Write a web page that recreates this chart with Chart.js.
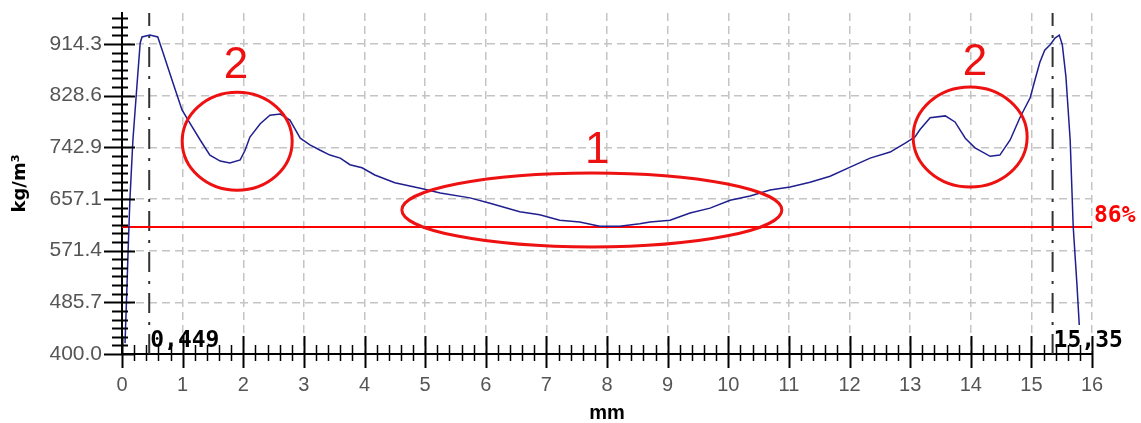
<!DOCTYPE html>
<html>
<head>
<meta charset="utf-8">
<script src="https://cdn.jsdelivr.net/npm/chart.js@4.4.0/dist/chart.umd.min.js"></script>
<style>
html, body { margin: 0; padding: 0; background: #fff; }
#wrap { width: 1141px; height: 423px; }
</style>
</head>
<body>
<div id="wrap"><canvas id="densityChart" width="1141" height="423"></canvas></div>
<script>
// density profile across the board thickness
var positionMm = [0.05, 0.08, 0.10, 0.13, 0.18, 0.25, 0.30, 0.33, 0.46, 0.59, 0.68, 0.84, 0.99, 1.12, 1.29, 1.45, 1.62, 1.78, 1.95, 2.03,
    2.11, 2.28, 2.44, 2.61, 2.77, 2.94, 3.10, 3.27, 3.43, 3.60, 3.76, 3.96, 4.17, 4.50, 4.92, 5.25, 5.74, 6.07, 6.56, 6.89,
    7.22, 7.55, 7.88, 8.21, 8.54, 8.71, 9.04, 9.37, 9.70, 10.03, 10.36, 10.69, 11.02, 11.35, 11.68, 12.01, 12.34, 12.67, 12.92, 13.08,
    13.16, 13.33, 13.58, 13.74, 13.91, 14.07, 14.32, 14.48, 14.65, 14.81, 14.98, 15.06, 15.14, 15.22, 15.31, 15.39, 15.46, 15.51, 15.57, 15.64,
    15.69, 15.75, 15.79];
var densityKg = [418, 506, 569, 655, 755, 850, 916, 926, 929, 926, 899, 850, 805, 783, 755, 730, 720, 717, 722, 738,
    760, 782, 796, 798, 788, 758, 747, 738, 730, 725, 714, 709, 697, 684, 675, 667, 659, 650, 636, 631,
    622, 619, 612, 612, 616, 619, 622, 634, 642, 655, 662, 672, 677, 685, 695, 710, 725, 735, 750, 760,
    772, 792, 795, 785, 758, 742, 728, 730, 755, 792, 825, 855, 884, 904, 913, 924, 929, 913, 860, 755,
    611, 518, 448];

var yTickValues = [400, 485.7, 571.4, 657.1, 742.9, 828.6, 914.3];
var yTickLabels = ['400.0', '485.7', '571.4', '657.1', '742.9', '828.6', '914.3'];
var xTickValues = [0, 1, 2, 3, 4, 5, 6, 7, 8, 9, 10, 11, 12, 13, 14, 15, 16];
var yMin = 400, yMax = 965.7;

// 86% reference level
var limitLevel = 610.7;
var limitLabel = '86%';

// dash-dot markers at the peaks
var markerPositions = [0.449, 15.35];
var markerLabels = ['0,449', '15,35'];

// red hand-drawn annotations (centre in data units, radius in px)
var notes = [
    { cx: 1.90, cy: 753, rx: 55, ry: 49, text: '2', tx: 1.88, ty: 878 },
    { cx: 7.75, cy: 639, rx: 190, ry: 37, text: '1', tx: 7.84, ty: 737 },
    { cx: 13.99, cy: 760, rx: 57, ry: 50, text: '2', tx: 14.07, ty: 883 }
];

var ctx = document.getElementById('densityChart').getContext('2d');

var datasets = [{
    label: 'density',
    data: positionMm.map(function (x, i) { return { x: x, y: densityKg[i] }; }),
    borderColor: '#1f1f8f',
    borderWidth: 1.5,
    pointRadius: 0,
    tension: 0
}, {
    label: 'limit',
    data: [{ x: 0, y: limitLevel }, { x: 16, y: limitLevel }],
    borderColor: '#ff0000',
    borderWidth: 2,
    pointRadius: 0
}];
markerPositions.forEach(function (m) {
    datasets.push({
        label: 'marker',
        data: [{ x: m, y: yMin }, { x: m, y: yMax }],
        borderColor: '#333',
        borderWidth: 2,
        borderDash: [20, 9, 3, 9],
        pointRadius: 0
    });
});

var extrasPlugin = {
    id: 'extras',
    afterDatasetsDraw: function (chart) {
        var c = chart.ctx, xs = chart.scales.x, ys = chart.scales.y;
        c.save();
        c.strokeStyle = '#000';
        c.lineWidth = 2;
        // y axis tick marks, 6 minor steps per major
        var yStep = (600 / 7) / 6;
        for (var i = 0; ; i++) {
            var v = yMin + i * yStep;
            if (v > yMax) break;
            var py = Math.round(ys.getPixelForValue(v)) + 0.5;
            var major = i % 6 === 0;
            c.beginPath();
            c.moveTo(xs.left - (major ? 18 : 10), py);
            c.lineTo(xs.left + (major ? 13 : 6), py);
            c.stroke();
        }
        // x axis tick marks, 0.2 mm minor
        for (var j = 0; j <= 80; j++) {
            var px = Math.round(xs.getPixelForValue(j * 0.2)) + 0.5;
            var maj = j % 5 === 0;
            c.lineWidth = maj ? 2 : 1.5;
            c.beginPath();
            c.moveTo(px, ys.bottom - (maj ? 18 : 9));
            c.lineTo(px, ys.bottom + (maj ? 14 : 7));
            c.stroke();
        }
        // marker labels
        c.fillStyle = '#000';
        c.font = 'bold 23px "DejaVu Sans Mono"';
        c.textAlign = 'left';
        c.textBaseline = 'alphabetic';
        markerPositions.forEach(function (m, k) {
            c.fillText(markerLabels[k], xs.getPixelForValue(m) + 1, ys.bottom - 7);
        });
        // 86% label
        c.fillStyle = '#ff0000';
        c.fillText(limitLabel, xs.right + 2, ys.getPixelForValue(limitLevel) - 5);
        // annotations
        c.strokeStyle = '#ee1111';
        c.fillStyle = '#ee1111';
        c.lineWidth = 3;
        c.font = '44px "Liberation Sans"';
        c.textAlign = 'center';
        c.textBaseline = 'middle';
        notes.forEach(function (n) {
            c.beginPath();
            c.ellipse(xs.getPixelForValue(n.cx), ys.getPixelForValue(n.cy), n.rx, n.ry, 0, 0, Math.PI * 2);
            c.stroke();
            c.fillText(n.text, xs.getPixelForValue(n.tx), ys.getPixelForValue(n.ty));
        });
        c.restore();
    }
};

var chart = new Chart(ctx, {
    type: 'line',
    data: { datasets: datasets },
    options: {
        responsive: false,
        animation: false,
        layout: { padding: { top: 13, right: 49, left: 0, bottom: 0 } },
        plugins: { legend: { display: false }, tooltip: { enabled: false } },
        scales: {
            x: {
                type: 'linear',
                min: 0,
                max: 16,
                afterBuildTicks: function (axis) {
                    axis.ticks = xTickValues.map(function (v) { return { value: v }; });
                },
                afterFit: function (axis) {
                    axis.height = 69;
                    axis.paddingLeft = 0;
                    axis.paddingRight = 0;
                },
                ticks: {
                    autoSkip: false,
                    maxRotation: 0,
                    padding: 19,
                    color: '#555',
                    font: { family: 'Liberation Sans', size: 20 }
                },
                grid: { color: '#c4c4c4', lineWidth: 1.5, drawTicks: false },
                border: { display: true, color: '#000', width: 2, dash: [8, 5] },
                title: {
                    display: true,
                    text: 'mm',
                    color: '#000',
                    padding: 0,
                    font: { family: 'Liberation Sans', size: 20, weight: 'bold', lineHeight: 1 }
                }
            },
            y: {
                min: yMin,
                max: yMax,
                afterBuildTicks: function (axis) {
                    axis.ticks = yTickValues.map(function (v) { return { value: v }; });
                },
                afterFit: function (axis) {
                    axis.width = 122;
                    axis.paddingTop = 0;
                    axis.paddingBottom = 0;
                },
                ticks: {
                    padding: 20,
                    color: '#555',
                    font: { family: 'Liberation Sans', size: 21 },
                    callback: function (value, index) { return yTickLabels[index]; }
                },
                grid: { color: '#c4c4c4', lineWidth: 1.5, drawTicks: false },
                border: { display: true, color: '#000', width: 2, dash: [8, 5] },
                title: {
                    display: true,
                    text: 'kg/m³',
                    color: '#000',
                    padding: { top: 11, bottom: 0 },
                    font: { family: 'DejaVu Sans', size: 18, weight: 'bold', lineHeight: 1 }
                }
            }
        }
    },
    plugins: [extrasPlugin]
});
</script>
</body>
</html>
